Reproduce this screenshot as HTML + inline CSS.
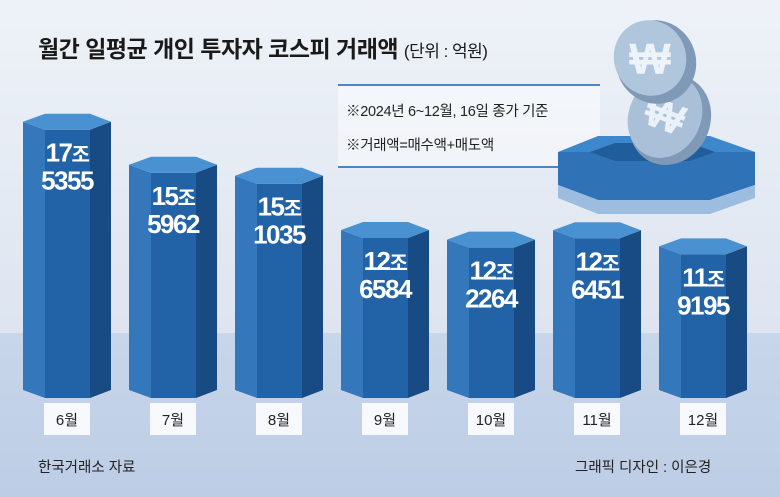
<!DOCTYPE html>
<html><head><meta charset="utf-8">
<style>
body{margin:0;}
#wrap{position:relative;width:780px;height:497px;overflow:hidden;font-family:"Liberation Sans","Noto Sans CJK KR",sans-serif;background:linear-gradient(#eef2f8,#dfe6f1 60%,#d6dfec);}
#band{position:absolute;left:0;top:333px;width:780px;height:164px;background:linear-gradient(#c8d6ea,#bccde5);}
#title{position:absolute;left:38px;top:30px;font-size:23px;font-weight:bold;color:#1a1a1a;letter-spacing:-0.5px;white-space:nowrap;}
#title span{font-size:17px;font-weight:normal;}
#note{position:absolute;left:338px;top:84px;width:262px;height:80px;background:rgba(255,255,255,0.45);border-top:2px solid #4a86c4;border-bottom:2px solid #4a86c4;}
.nt{position:absolute;left:8px;font-size:14.5px;color:#222;white-space:nowrap;letter-spacing:-0.3px;}
.foot{position:absolute;top:456px;font-size:14.5px;color:#222;white-space:nowrap;}
svg{position:absolute;left:0;top:0;}
</style></head><body>
<div id="wrap">
<div id="band"></div>
<div id="title">월간 일평균 개인 투자자 코스피 거래액 <span>(단위 : 억원)</span></div>
<div id="note">
<div class="nt" style="top:14px">※2024년 6~12월, 16일 종가 기준</div>
<div class="nt" style="top:48px">※거래액=매수액+매도액</div>
</div>
<svg id="chart" width="780" height="497">
<g>
<polygon points="558,152 598,136 710,136 755,152 710,168 598,168" fill="#3d88cc"/>
<polygon points="558,152 755,152 755,185 710,200 598,200 558,185" fill="#2f73b6"/>
<polygon points="558,185 598,200 710,200 755,185 755,198 710,214 598,214 558,198" fill="#9dbde0"/>
<polygon points="590,152 615,143 690,143 715,152 690,161 615,161" fill="#1f5d9c"/>
<ellipse cx="670" cy="120" rx="40" ry="46" fill="#7f99b6" transform="rotate(25 670 120)"/>
<ellipse cx="665" cy="116" rx="36" ry="43" fill="#a9c0d8" transform="rotate(25 665 116)"/>
<text x="664" y="130" font-size="42" font-weight="bold" fill="#eaf1f8" text-anchor="middle" transform="rotate(20 664 118)">₩</text>
<ellipse cx="656" cy="62" rx="40" ry="42" fill="#7f99b6" transform="rotate(-20 656 62)"/>
<ellipse cx="650" cy="58" rx="36" ry="38" fill="#b0c6dc" transform="rotate(-20 650 58)"/>
<text x="650" y="74" font-size="44" font-weight="bold" fill="#eef3f9" text-anchor="middle">₩</text>
</g>
<g id="bars"></g>
</svg>
<div class="foot" style="left:38px">한국거래소 자료</div>
<div class="foot" style="left:575px">그래픽 디자인 : 이은경</div>
</div>
<script>
const months=["6월","7월","8월","9월","10월","11월","12월"];
const valuesJo=[17,15,15,12,12,12,11];
const valuesEok=[5355,5962,1035,6584,2264,6451,9195];
const NS="http://www.w3.org/2000/svg";
const g=document.getElementById("bars");
const baseY=390;
function y(v){return baseY-(22.2*v-121);}
function x(i){return 67+i*106;}
function mk(t,a){const e=document.createElementNS(NS,t);for(const k in a)e.setAttribute(k,a[k]);return e;}
months.forEach((m,i)=>{
  const v=valuesJo[i]+valuesEok[i]/10000;
  const cx=x(i),top=y(v),L=cx-44,R=cx+44,a=cx-22,b=cx+23,d=8;
  const grp=mk("g",{});
  
  
  grp.appendChild(mk("polygon",{points:`${L},${top} ${a},${top+d} ${a},${baseY+d} ${L},${baseY}`,fill:"#3577bb"}));
  grp.appendChild(mk("polygon",{points:`${a},${top+d} ${b},${top+d} ${b},${baseY+d} ${a},${baseY+d}`,fill:"#2263a7"}));
  grp.appendChild(mk("polygon",{points:`${b},${top+d} ${R},${top} ${R},${baseY} ${b},${baseY+d}`,fill:"#184b84"}));
  grp.appendChild(mk("polygon",{points:`${L},${top} ${a},${top-d} ${b},${top-d} ${R},${top} ${b},${top+d} ${a},${top+d}`,fill:"#4a91d2"}));
  const t1=mk("text",{x:cx,y:top+40,"text-anchor":"middle","font-size":"26","font-weight":"bold",fill:"#fff","letter-spacing":"-1.5"});
  t1.textContent=valuesJo[i];
  const ts=mk("tspan",{"font-size":"20"});ts.textContent="조";t1.appendChild(ts);
  
  
  grp.appendChild(t1);
  const t2=mk("text",{x:cx,y:top+68,"text-anchor":"middle","font-size":"26","font-weight":"bold",fill:"#fff","letter-spacing":"-1.5"});
  t2.textContent=valuesEok[i];
  
  
  grp.appendChild(t2);
  const box=mk("rect",{x:cx-23,y:403,width:46,height:32,fill:"#f7f9fc"});
  
  
  grp.appendChild(box);
  const ml=mk("text",{x:cx,y:425,"text-anchor":"middle","font-size":"15",fill:"#222"});
  ml.textContent=m;
  
  
  grp.appendChild(ml);
  g.appendChild(grp);
});
</script>
</body></html>
